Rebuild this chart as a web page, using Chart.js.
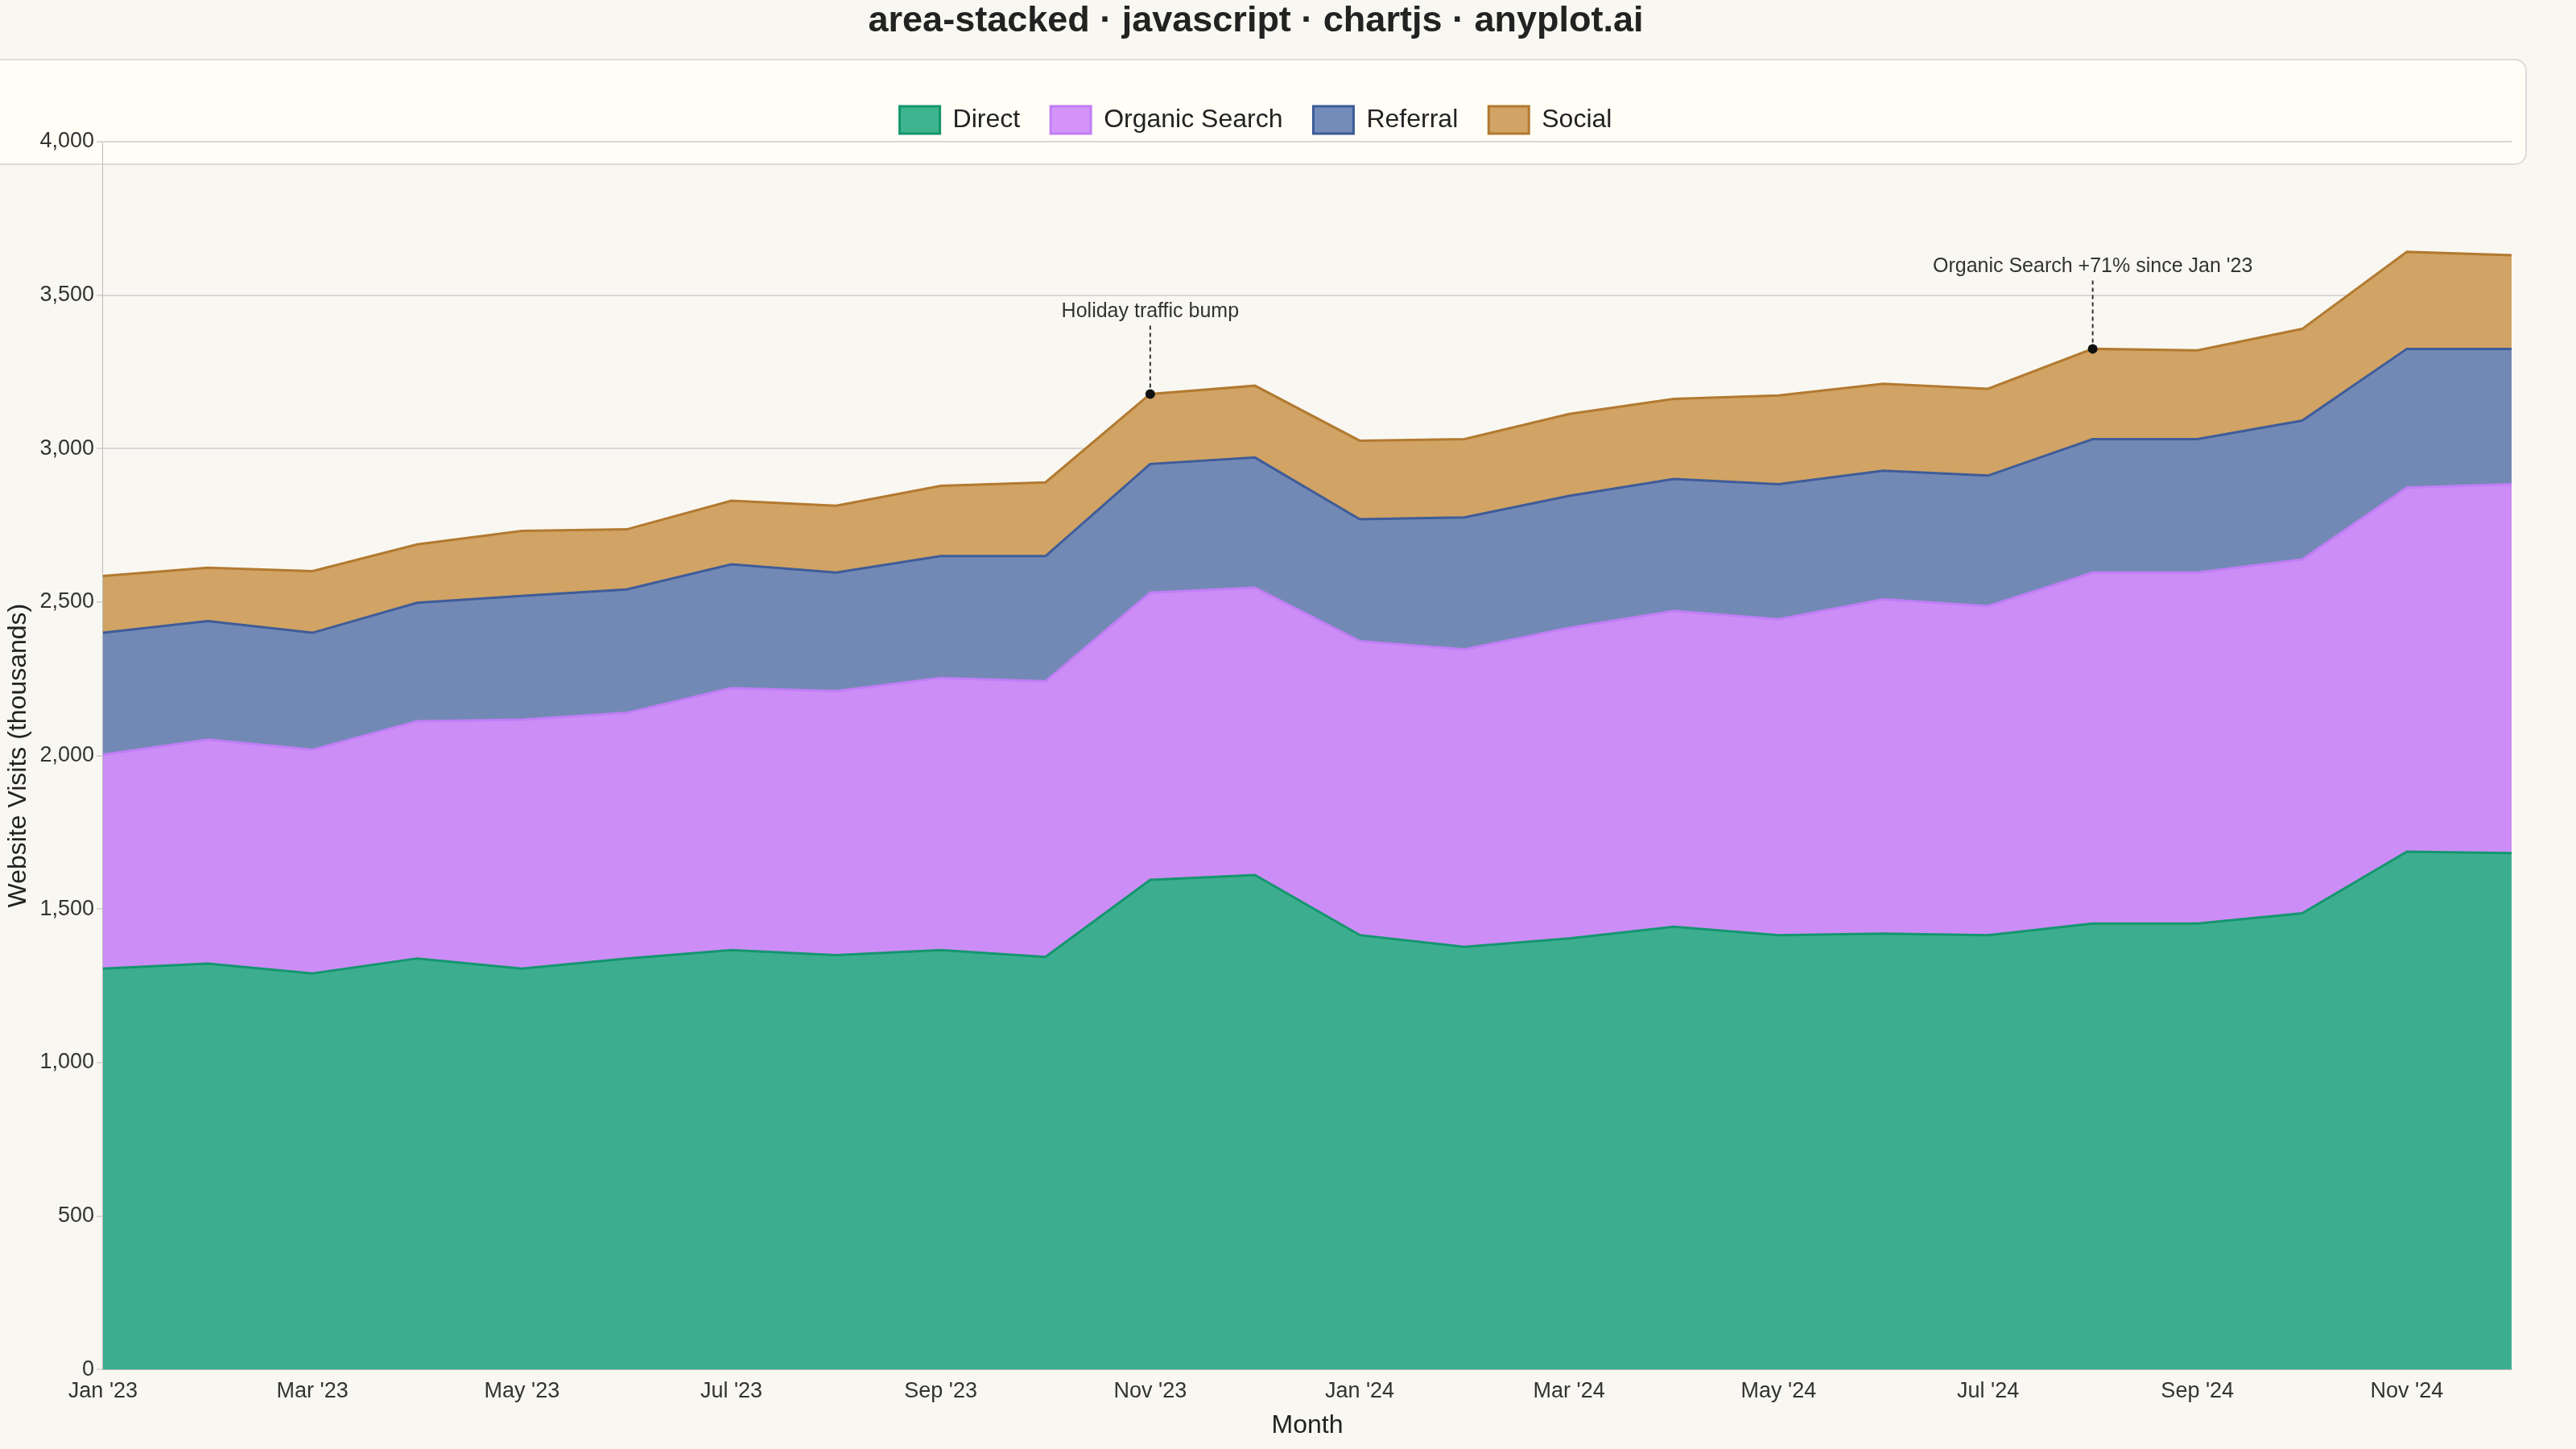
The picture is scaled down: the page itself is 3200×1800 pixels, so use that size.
<!DOCTYPE html>
<html>
<head>
<meta charset="utf-8">
<script src="https://cdn.jsdelivr.net/npm/chart.js@4"></script>
<style>
  html, body { margin: 0; padding: 0; background: #f9f7f2; }
  #wrap { width: 3200px; height: 1800px; }
</style>
</head>
<body>
<div id="wrap"><canvas id="chart" width="3200" height="1800"></canvas></div>
<script>
const months = ["Jan '23","Feb '23","Mar '23","Apr '23","May '23","Jun '23","Jul '23","Aug '23","Sep '23","Oct '23","Nov '23","Dec '23",
                "Jan '24","Feb '24","Mar '24","Apr '24","May '24","Jun '24","Jul '24","Aug '24","Sep '24","Oct '24","Nov '24","Dec '24"];
const direct   = [1306,1322,1290,1339,1306,1339,1366,1350,1366,1344,1595,1611,1415,1377,1404,1442,1415,1420,1415,1453,1453,1486,1687,1682];
const organic  = [697,730,729,773,811,800,854,860,887,898,936,936,958,969,1012,1029,1029,1089,1072,1143,1143,1153,1186,1202];
const referral = [397,386,381,386,403,402,403,386,397,408,419,424,397,430,430,430,440,419,425,435,435,452,452,441];
const social   = [185,174,201,190,212,196,207,218,229,240,228,234,256,255,267,261,289,283,283,294,289,299,316,305];

const notes = [
  { index: 10, text: "Holiday traffic bump" },
  { index: 19, text: "Organic Search +71% since Jan '23" }
];

const F = "'Liberation Sans', Arial, sans-serif";

// legend backdrop box
const legendBox = {
  id: 'legendBox',
  beforeDraw(chart) {
    const { ctx, legend } = chart;
    ctx.save();
    ctx.fillStyle = '#fffdf5';
    ctx.strokeStyle = '#dcdcdc';
    ctx.lineWidth = 2;
    ctx.beginPath();
    ctx.roundRect(-20, 74, 3158, 130, 14);
    ctx.fill();
    ctx.stroke();
    ctx.restore();
  }
};

// callouts
const callouts = {
  id: 'callouts',
  afterDatasetsDraw(chart) {
    const { ctx, scales } = chart;
    ctx.save();
    notes.forEach(n => {
      const total = direct[n.index] + organic[n.index] + referral[n.index] + social[n.index];
      const x = scales.x.getPixelForValue(n.index);
      const y = scales.y.getPixelForValue(total);
      ctx.strokeStyle = '#333';
      ctx.lineWidth = 2;
      ctx.setLineDash([5, 4]);
      ctx.beginPath();
      ctx.moveTo(x, y - 8);
      ctx.lineTo(x, y - 85);
      ctx.stroke();
      ctx.setLineDash([]);
      ctx.fillStyle = '#111';
      ctx.beginPath();
      ctx.arc(x, y, 6, 0, Math.PI * 2);
      ctx.fill();
      ctx.fillStyle = '#333';
      ctx.font = `25px ${F}`;
      ctx.textAlign = 'center';
      ctx.fillText(n.text, x, y - 102);
    });
    ctx.restore();
  }
};

function ds(label, data, fill, border) {
  return { label, data, backgroundColor: fill, borderColor: border, borderWidth: 3,
           fill: true, pointRadius: 0, tension: 0 };
}

new Chart(document.getElementById('chart'), {
  type: 'line',
  data: {
    labels: months,
    datasets: [
      ds('Direct', direct, 'rgba(52,176,137,0.95)', '#14966e'),
      ds('Organic Search', organic, 'rgba(209,141,250,0.95)', '#c07ef5'),
      ds('Referral', referral, 'rgba(112,136,184,0.97)', '#3e5c99'),
      ds('Social', social, 'rgba(207,160,95,0.97)', '#b27a30')
    ]
  },
  options: {
    responsive: false,
    animation: false,
    devicePixelRatio: 1,
    layout: { padding: { left: 0, right: 80, top: 0, bottom: 6 } },
    plugins: {
      title: { display: true, text: 'area-stacked · javascript · chartjs · anyplot.ai',
               color: '#222', font: { family: F, size: 45, weight: 'bold' }, padding: { top: 0, bottom: 40 } },
      legend: { labels: { color: '#222', font: { family: F, size: 32 }, boxWidth: 50, boxHeight: 34, padding: 38 } },
      tooltip: { enabled: false }
    },
    scales: {
      x: {
        offset: false,
        grid: { display: false },
        border: { color: '#bbb' },
        ticks: { color: '#333', font: { family: F, size: 27 }, autoSkip: false, maxRotation: 0,
                 callback: (v, i) => i % 2 === 0 ? months[i] : '' },
        title: { display: true, text: 'Month', color: '#222', font: { family: F, size: 32 } }
      },
      y: {
        stacked: true, min: 0, max: 4000,
        grid: { color: '#d8d8d8', lineWidth: 2 },
        border: { color: '#bbb' },
        ticks: { stepSize: 500, color: '#333', font: { family: F, size: 27 },
                 callback: v => v.toLocaleString('en-US') },
        title: { display: true, text: 'Website Visits (thousands)', color: '#222', font: { family: F, size: 32 } }
      }
    }
  },
  plugins: [legendBox, callouts]
});
</script>
</body>
</html>
